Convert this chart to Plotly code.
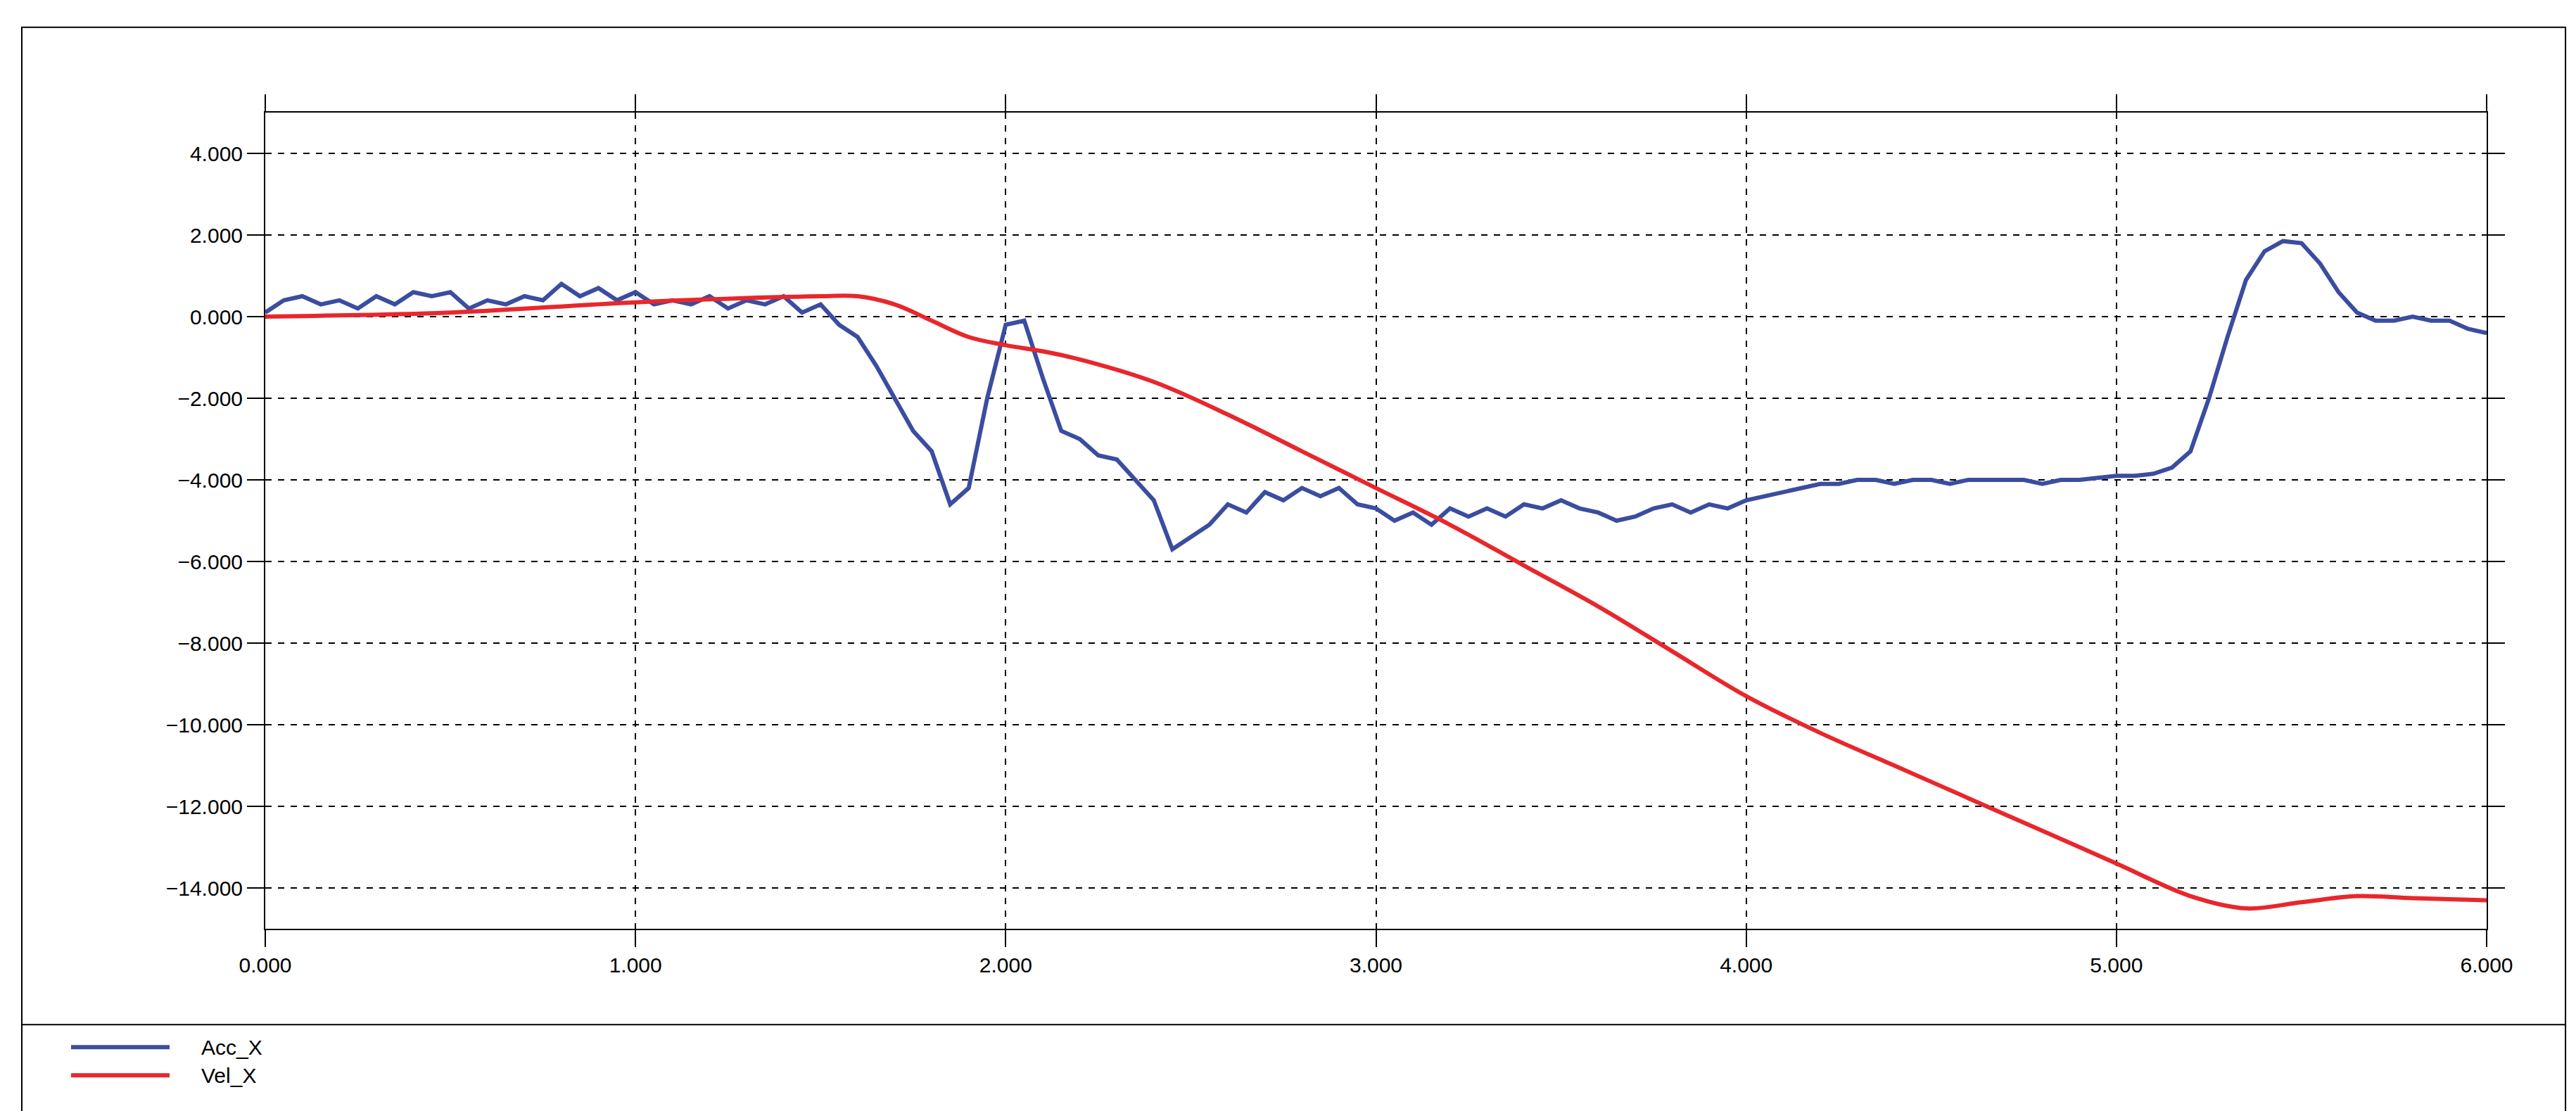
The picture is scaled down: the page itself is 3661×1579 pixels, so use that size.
import plotly.graph_objects as go

acc_t = [round(i*0.05, 2) for i in range(121)]
acc_x = [0.1,0.4,0.5,0.3,0.4,0.2,0.5,0.3,0.6,0.5,0.6,0.2,0.4,0.3,0.5,0.4,0.8,0.5,0.7,0.4,
         0.6,0.3,0.4,0.3,0.5,0.2,0.4,0.3,0.5,0.1,0.3,-0.2,-0.5,-1.2,-2.0,-2.8,-3.3,-4.6,-4.2,-2.0,
         -0.2,-0.1,-1.5,-2.8,-3.0,-3.4,-3.5,-4.0,-4.5,-5.7,-5.4,-5.1,-4.6,-4.8,-4.3,-4.5,-4.2,-4.4,-4.2,-4.6,
         -4.7,-5.0,-4.8,-5.1,-4.7,-4.9,-4.7,-4.9,-4.6,-4.7,-4.5,-4.7,-4.8,-5.0,-4.9,-4.7,-4.6,-4.8,-4.6,-4.7,
         -4.5,-4.4,-4.3,-4.2,-4.1,-4.1,-4.0,-4.0,-4.1,-4.0,-4.0,-4.1,-4.0,-4.0,-4.0,-4.0,-4.1,-4.0,-4.0,-3.95,
         -3.9,-3.9,-3.85,-3.7,-3.3,-2.0,-0.5,0.9,1.6,1.85,1.8,1.3,0.6,0.1,-0.1,-0.1,0.0,-0.1,-0.1,-0.3,-0.4]
vel_t = [0,0.5,1.0,1.5,1.6,1.7,1.8,1.9,2.0,2.1,2.2,2.4,2.6,2.8,3.0,3.2,3.4,3.6,3.8,4.0,4.2,4.4,4.6,4.8,5.0,5.2,5.35,5.5,5.65,5.8,6.0]
vel_x = [0,0.1,0.35,0.5,0.5,0.3,-0.1,-0.5,-0.7,-0.85,-1.05,-1.6,-2.4,-3.3,-4.2,-5.1,-6.1,-7.1,-8.2,-9.3,-10.2,-11.0,-11.8,-12.6,-13.4,-14.2,-14.5,-14.35,-14.2,-14.25,-14.3]
x_ticks = [0,1,2,3,4,5,6]
y_ticks = [4,2,0,-2,-4,-6,-8,-10,-12,-14]

BLUE = "#3A4DA0"; RED = "#E8272C"
fig = go.Figure()
fig.add_trace(go.Scatter(x=acc_t, y=acc_x, mode="lines", line=dict(color=BLUE, width=6), name="Acc_X"))
fig.add_trace(go.Scatter(x=vel_t, y=vel_x, mode="lines", line=dict(color=RED, width=6, shape="spline"), name="Vel_X"))

axis_common = dict(showline=True, linecolor="black", linewidth=2, mirror="ticks", ticks="outside",
                   ticklen=24, tickwidth=2, tickcolor="black", tickformat=".3f",
                   showgrid=True, gridcolor="black", griddash="dash", gridwidth=1.5,
                   zeroline=False, tickfont=dict(family="Liberation Sans", size=30, color="black"))
fig.update_xaxes(range=[0, 6], tickvals=x_ticks, **axis_common)
fig.update_yaxes(range=[-15, 5], tickvals=y_ticks, **axis_common)

shapes = [
    dict(type="rect", xref="paper", yref="paper", x0=-0.1096, x1=1.0355, y0=-0.26, y1=1.1045,
         line=dict(color="black", width=2)),
    dict(type="line", xref="paper", yref="paper", x0=-0.1096, x1=1.0355, y0=-0.1174, y1=-0.1174,
         line=dict(color="black", width=2)),
]
anns = []
for i, (nm, col) in enumerate([("Acc_X", BLUE), ("Vel_X", RED)]):
    yp = (1312 - (1480 + 40*i)) / 1158
    shapes.append(dict(type="line", xref="paper", yref="paper", x0=(93-369)/3157, x1=(233-369)/3157,
                       y0=yp, y1=yp, line=dict(color=col, width=6)))
    anns.append(dict(xref="paper", yref="paper", x=(276-369)/3157, y=yp, text=nm, showarrow=False,
                     xanchor="left", yanchor="middle",
                     font=dict(family="Liberation Sans", size=30, color="black")))

fig.update_layout(width=3661, height=1579, margin=dict(l=369, r=135, t=152, b=267),
                  paper_bgcolor="white", plot_bgcolor="white", showlegend=False,
                  shapes=shapes, annotations=anns)
fig.write_html("out.html")
